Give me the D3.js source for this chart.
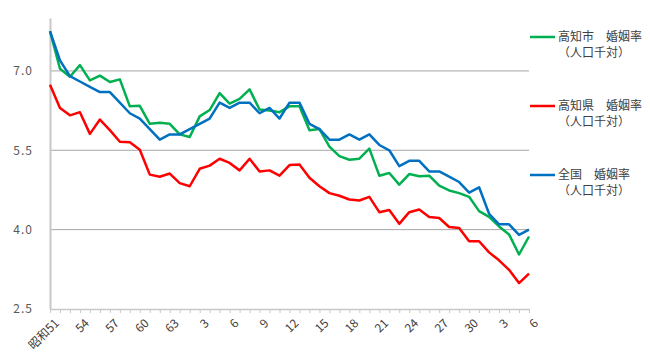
<!DOCTYPE html>
<html>
<head>
<meta charset="utf-8">
<script src="https://cdn.jsdelivr.net/npm/d3@7"></script>
<style>
  body { margin: 0; background: #fff; }
  text { font-family: "Noto Sans CJK JP", "Noto Sans", sans-serif; }
</style>
</head>
<body>
<div id="chart"></div>
<script>
// 年次（昭和51年〜令和6年）
const categories = [
  "昭和51","昭和52","昭和53","昭和54","昭和55","昭和56","昭和57","昭和58","昭和59","昭和60",
  "昭和61","昭和62","昭和63","平成元","平成2","平成3","平成4","平成5","平成6","平成7",
  "平成8","平成9","平成10","平成11","平成12","平成13","平成14","平成15","平成16","平成17",
  "平成18","平成19","平成20","平成21","平成22","平成23","平成24","平成25","平成26","平成27",
  "平成28","平成29","平成30","令和元","令和2","令和3","令和4","令和5","令和6"
];
// 3年ごとにラベルを表示
const tickLabels = ["昭和51","54","57","60","63","3","6","9","12","15","18","21","24","27","30","3","6"];
const yTicks = [2.5, 4.0, 5.5, 7.0];

const cityRate = [
  7.75,7.04,6.89,7.11,6.82,6.91,6.79,6.84,6.33,6.34,6.00,6.02,6.00,5.80,5.75,6.14,
  6.26,6.58,6.38,6.47,6.65,6.27,6.25,6.22,6.33,6.33,5.88,5.90,5.57,5.39,5.32,5.34,
  5.53,5.02,5.07,4.85,5.05,5.01,5.02,4.83,4.74,4.69,4.62,4.35,4.24,4.06,3.91,3.53,3.87
];
const prefRate = [
  6.74,6.30,6.16,6.22,5.81,6.08,5.88,5.66,5.65,5.51,5.04,5.00,5.06,4.88,4.82,5.15,
  5.21,5.34,5.26,5.12,5.34,5.10,5.12,5.02,5.22,5.23,4.98,4.82,4.69,4.64,4.57,4.55,
  4.62,4.33,4.37,4.11,4.33,4.38,4.24,4.22,4.05,4.03,3.78,3.78,3.57,3.42,3.24,2.99,3.17
];
const nationalRate = [
  7.75,7.2,6.9,6.8,6.7,6.6,6.6,6.4,6.2,6.1,5.9,5.7,5.8,5.8,5.9,6.0,
  6.1,6.4,6.3,6.4,6.4,6.2,6.3,6.1,6.4,6.4,6.0,5.9,5.7,5.7,5.8,5.7,
  5.8,5.6,5.5,5.2,5.3,5.3,5.1,5.1,5.0,4.9,4.7,4.8,4.3,4.1,4.1,3.9,4.0
];

const series = [
  { name: "高知市　婚姻率", values: cityRate, color: "#00b050" },
  { name: "高知県　婚姻率", values: prefRate, color: "#ff0000" },
  { name: "全国　婚姻率", values: nationalRate, color: "#0070c0" }
];

const width = 650, height = 359;
const margin = { left: 50, right: 121, top: 18, bottom: 50 };
const graphWidth = width - margin.left - margin.right;
const graphHeight = height - margin.top - margin.bottom;

function drawSVG(selection) {
  const svg = selection.append("svg")
    .attr("width", width)
    .attr("height", height);
  const plot = svg.append("g")
    .attr("class", "plot")
    .attr("transform", `translate(${margin.left}, ${margin.top})`);
  return { svg, plot };
}

function setAxis(selection, xScale, yScale) {
  // グリッド線
  selection.append("g")
    .selectAll("line")
    .data(yTicks.filter(d => d > 2.5))
    .join("line")
    .attr("x1", 0)
    .attr("x2", graphWidth)
    .attr("y1", d => yScale(d))
    .attr("y2", d => yScale(d))
    .attr("stroke", "#a6a6a6")
    .attr("stroke-width", 1);

  const yAxis = d3.axisLeft(yScale)
    .tickValues(yTicks)
    .tickSize(0)
    .tickPadding(17)
    .tickFormat(d3.format(".1f"));
  const yAxisGroup = selection.append("g").call(yAxis);
  yAxisGroup.select(".domain")
    .attr("stroke", "#c8c8c8")
    .attr("stroke-width", 2);
  yAxisGroup.selectAll("text")
    .attr("fill", "#595959")
    .style("font-size", "12px")
    .style("letter-spacing", "1px");

  const xAxis = d3.axisBottom(xScale)
    .tickSize(4)
    .tickSizeOuter(0)
    .tickFormat(() => "");
  const xAxisGroup = selection.append("g")
    .attr("transform", `translate(0,${graphHeight})`)
    .call(xAxis);
  xAxisGroup.select(".domain").attr("stroke", "#c8c8c8").attr("stroke-width", 1.5);
  xAxisGroup.selectAll(".tick line").attr("stroke", "#c8c8c8");

  // 斜めの年ラベル
  const labelCats = categories.filter((c, i) => i % 3 === 0);
  xAxisGroup.selectAll(".year-label")
    .data(labelCats)
    .join("text")
    .attr("class", "year-label")
    .attr("transform", c => `translate(${xScale(c) + 4}, 9) rotate(-45)`)
    .attr("text-anchor", "end")
    .attr("dy", "0.7em")
    .attr("fill", "#404040")
    .style("font-size", "12px")
    .text((c, k) => tickLabels[k]);
}

function drawPlot(selection, xScale, yScale) {
  const line = d3.line()
    .x((d, i) => xScale(categories[i]))
    .y(d => yScale(d));
  selection.selectAll(".series")
    .data(series)
    .join("path")
    .attr("class", "series")
    .attr("fill", "none")
    .attr("stroke", d => d.color)
    .attr("stroke-width", 2.5)
    .attr("stroke-linejoin", "round")
    .attr("d", d => line(d.values));
}

function drawLegend(svg) {
  const rows = [37, 106, 175];
  const legend = svg.append("g").attr("class", "legend");
  const items = legend.selectAll("g")
    .data(series)
    .join("g")
    .attr("transform", (d, i) => `translate(530, ${rows[i]})`);
  items.append("line")
    .attr("x1", 0)
    .attr("x2", 25)
    .attr("stroke", d => d.color)
    .attr("stroke-width", 2.5);
  items.append("text")
    .attr("x", 28)
    .attr("dy", "0.35em")
    .attr("fill", "#404040")
    .style("font-size", "12px")
    .text(d => d.name);
  items.append("text")
    .attr("x", 28)
    .attr("y", 16)
    .attr("dy", "0.35em")
    .attr("fill", "#404040")
    .style("font-size", "12px")
    .text("（人口千対）");
}

const { svg, plot } = drawSVG(d3.select("#chart"));
const xScale = d3.scalePoint()
  .domain(categories)
  .range([0, graphWidth]);
const yScale = d3.scaleLinear()
  .domain([2.5, 8.0])
  .range([graphHeight, 0]);
setAxis(plot, xScale, yScale);
drawPlot(plot, xScale, yScale);
drawLegend(svg);
</script>
</body>
</html>
